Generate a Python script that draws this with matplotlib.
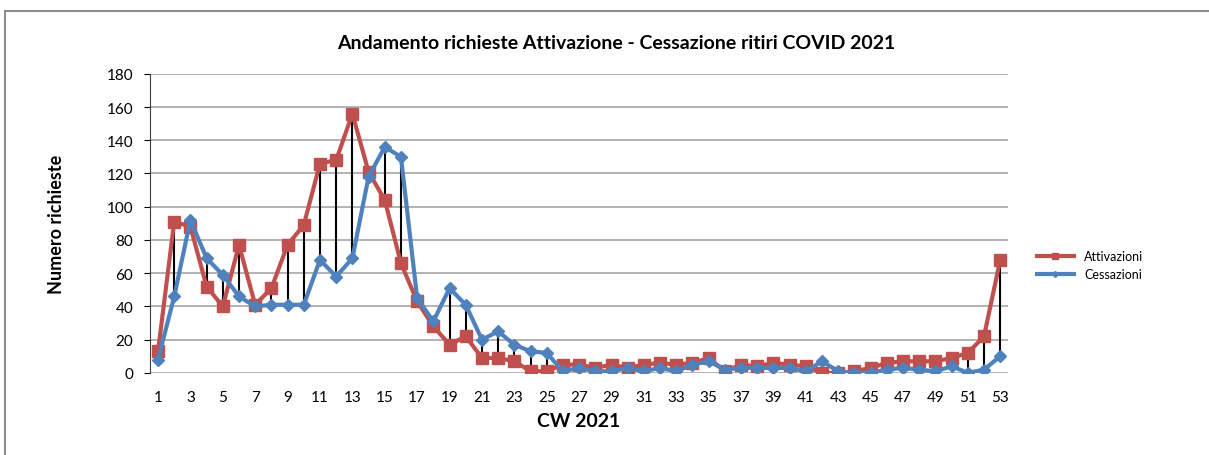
import matplotlib.pyplot as plt
from matplotlib.patches import Rectangle

plt.rcParams['font.family'] = ['Lato', 'DejaVu Sans']

# settimane e richieste
weeks = list(range(1, 54))
attivazioni = [13, 91, 88, 52, 40, 77, 41, 51, 77, 89, 126, 128, 156, 121, 104, 66, 43, 28,
               17, 22, 9, 9, 7, 1, 1, 5, 5, 3, 5, 3, 5, 6, 5, 6, 9, 1, 5, 4, 6, 5,
               4, 0, 0, 1, 3, 6, 7, 7, 7, 9, 12, 22, 68]
cessazioni = [8, 46, 92, 69, 59, 46, 40, 41, 41, 41, 68, 58, 69, 118, 136, 130, 45, 31,
              51, 41, 20, 25, 17, 13, 12, 1, 3, 1, 1, 3, 1, 3, 1, 5, 7, 2, 3, 3, 3, 3,
              1, 7, 1, 0, 0, 2, 3, 2, 1, 4, 0, 2, 10]
xtick_labels = [str(w) for w in weeks if w % 2 == 1]

RED = '#C0504D'
BLUE = '#4F81BD'

fig = plt.figure(figsize=(12.09, 4.56), dpi=100)
ax = fig.add_axes([0.124, 0.180, 0.710, 0.656])

# cornice esterna del grafico
fig.patches.append(Rectangle((0.004, -0.05), 1.2, 1.023, transform=fig.transFigure,
                             fill=False, edgecolor='#8c8c8c', linewidth=1.5))

# linee di collegamento alto-basso
lo = [min(a, c) for a, c in zip(attivazioni, cessazioni)]
hi = [max(a, c) for a, c in zip(attivazioni, cessazioni)]
ax.vlines(weeks, lo, hi, color='black', linewidth=1.5, zorder=2)

ax.plot(weeks, attivazioni, color=RED, linewidth=3, marker='s', markersize=8,
        label='Attivazioni', zorder=3)
ax.plot(weeks, cessazioni, color=BLUE, linewidth=3, marker='D', markersize=6,
        label='Cessazioni', zorder=4)

ax.set_xlim(0.5, 53.5)
ax.set_ylim(0, 180)
ax.set_yticks(range(0, 181, 20))
ax.set_xticks([w for w in weeks if w % 2 == 1])
ax.set_xticklabels(xtick_labels, fontsize=11)
ax.tick_params(axis='y', labelsize=11, length=4, pad=8)
ax.tick_params(axis='x', length=0, pad=12)
ax.grid(axis='y', color='#a6a6a6', linewidth=1.2)
ax.set_axisbelow(True)
for side in ['top', 'right', 'bottom']:
    ax.spines[side].set_visible(False)
ax.spines['left'].set_color('#404040')

ax.set_ylabel('Numero richieste', fontsize=13, fontweight='bold', labelpad=30)
ax.set_xlabel('CW 2021', fontsize=14, fontweight='bold', labelpad=6)
fig.text(0.51, 0.905, 'Andamento richieste Attivazione - Cessazione ritiri COVID 2021',
         ha='center', va='center', fontsize=14, fontweight='bold')

leg = ax.legend(loc='center left', bbox_to_anchor=(1.02, 0.36), frameon=False,
                fontsize=9, handlelength=3, markerscale=0.5)

fig.savefig('out.png', dpi=100)
